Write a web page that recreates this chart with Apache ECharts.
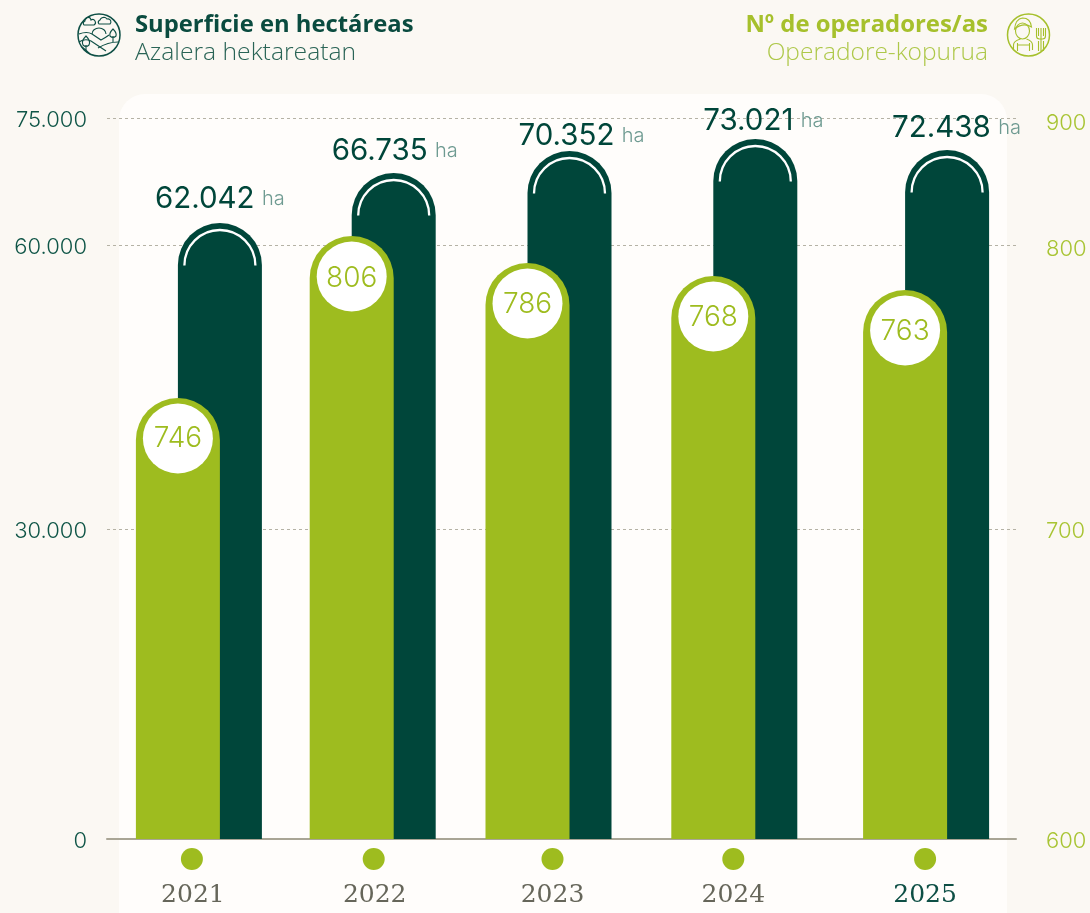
<!DOCTYPE html>
<html><head><meta charset="utf-8">
<script src="https://cdn.jsdelivr.net/npm/echarts@6/dist/echarts.min.js"></script>
<style>html,body{margin:0;padding:0;background:#FBF8F3}#c{width:1090px;height:913px}</style>
</head><body><div id="c"></div>
<script>
const years = ['2021','2022','2023','2024','2025'];
const hectares = [62042,66735,70352,73021,72438];
const operators = [746,806,786,768,763];
const hectareTicks = [0,30000,60000,75000];
const operatorTicks = [600,700,800,900];

// The reference's axes are not linear: each scale is a piecewise mapping from value to axis units.
const hectareBreaks = [0,30000,60000,62042,66735,70352,72438,73021,75000];
const hectareUnits  = [0,310,594,616,666,688,689,700,721];
const operatorBreaks = [600,700,746,763,768,786,800,806,900];
const operatorUnits  = [0,310,441,549,563,576,592,603,718];
const UNITS_MAX = 721;

const DARK='#00463A', GREEN='#9EBC1F', PAGE='#FBF8F3', PANEL='#FFFDFB';
const BAR_W=84;
const pairShift=[1,-7,-13,-9,1];
const dotShift=[-6,-6,-9,-10,0];
const yearShift=[1,1,0,0,0];
const haLabelDx=[-65,-62,-51,-52,-55];
const haLabelDy=[-24,-22,-15,-18,-22];
const bubbleDy=[41,43,42,42,42];

function warp(v,bs,us){
  for(let i=1;i<bs.length;i++){ if(v<=bs[i]){ const t=(v-bs[i-1])/(bs[i]-bs[i-1]); return us[i-1]+t*(us[i]-us[i-1]); } }
  return us[us.length-1];
}
const fmt=v=>String(v).replace(/\B(?=(\d{3})+$)/g,'.');
const hTickMap=new Map(hectareTicks.map(t=>[warp(t,hectareBreaks,hectareUnits),fmt(t)]));
const oTickMap=new Map(operatorTicks.map(t=>[warp(t,operatorBreaks,operatorUnits),String(t)]));

function renderDark(p,api){
  const i=api.value(0), c=api.coord([i,api.value(1)]), base=api.coord([i,0]);
  const cx=c[0]+pairShift[i]+21, top=c[1], R=BAR_W/2;
  return {type:'group',children:[
    {type:'rect',shape:{x:cx-R,y:top,width:BAR_W,height:base[1]-top,r:[R,R,0,0]},style:{fill:DARK}},
    {type:'arc',shape:{cx:cx,cy:top+R+0.5,r:35.5,startAngle:Math.PI,endAngle:2*Math.PI,clockwise:true},style:{fill:'none',stroke:'#FFFFFF',lineWidth:2.3}},
    {type:'text',x:cx+haLabelDx[i],y:top+haLabelDy[i],style:{
      text:'{v|'+fmt(api.value(2))+'} {u|ha}',align:'left',verticalAlign:'middle',
      rich:{v:{fontFamily:'Inter',fontSize:29.5,fontWeight:400,fill:DARK,color:DARK},
            u:{fontFamily:'Inter',fontSize:20,fontWeight:300,fill:'#6E9A91',color:'#6E9A91',padding:[0,0,0,4]}}
    }}
  ]};
}
function renderGreen(p,api){
  const i=api.value(0), c=api.coord([i,api.value(1)]), base=api.coord([i,0]);
  const cx=c[0]+pairShift[i]-21, top=c[1], R=BAR_W/2, dx=c[0]+dotShift[i];
  return {type:'group',children:[
    {type:'rect',shape:{x:cx-R,y:top,width:BAR_W,height:base[1]-top,r:[R,R,0,0]},style:{fill:GREEN}},
    {type:'circle',shape:{cx:cx,cy:top+40.5,r:35},style:{fill:'#FFFFFF'}},
    {type:'text',x:cx,y:top+bubbleDy[i],style:{text:String(api.value(2)),align:'center',verticalAlign:'middle',fontFamily:'Inter',fontSize:28,fontWeight:300,fill:'#9EBC1F'}},
    {type:'circle',shape:{cx:dx,cy:859,r:11},style:{fill:GREEN}},
    {type:'text',x:dx+yearShift[i],y:895,style:{text:years[i],align:'center',verticalAlign:'middle',fontFamily:'DejaVu Serif',fontSize:25,fill:i===4?'#0E4F45':'#66665A'}}
  ]};
}
const leftIcon=[
 'M-15,-10 a2.5,2.5 0 0 1 1,-4 a3,3 0 0 1 6,-1 a2.5,2.5 0 0 1 3,5 z',
 'M0,-11 a2.5,2.5 0 0 1 1,-4 a4,4 0 0 1 7,-1 a3,3 0 0 1 3,5 z',
 'M-7,-1 a7,6 0 0 1 14,0',
 'M-20,-1 q8,-3 13,0 l9,6 q4,-2 8,-5 M-20,7 q6,-4 12,-1 l15,10 M-1,13 q10,-6 20,-6 M-9,19 q-4,-4 -8,-7',
 'M14,-6 q-4,4 -3,7 q3,3 6,0 q1,-3 -3,-7 z M14,1 v6',
 'M-13,1 q-5,5 -3,9 q3,3 6,0 q2,-4 -3,-9 z M-13,10 v5'
];
const rightIcon=[
 'M-13,-4 a7,8 0 1 0 14,0 a7,8 0 1 0 -14,0',
 'M-14,-6 q1,-10 8,-11 q8,0 9,9 q-8,-5 -17,2 z',
 'M-15,15 v-5 q0,-4 7,-6 M4,15 v-5 q0,-4 -6,-6 M-11,16 v-8 M1,16 v-8 M-11,10 h12',
 'M8,-7 v8 q0,3 3,3 h3 q3,0 3,-3 v-8 M12.5,-7 v23 M10,-7 v8 M15,-7 v8 M10,6 v10 M15,6 v10'
];
[...leftIcon,...rightIcon].forEach((d,i)=>echarts.graphic.registerShape('iconPart'+i,echarts.graphic.extendPath(d,{})));
const icon=(cx,cy,color,paths,first)=>({type:'group',x:cx,y:cy,children:[
  {type:'circle',shape:{cx:0,cy:0,r:21},style:{fill:'none',stroke:color,lineWidth:1.5}},
  ...paths.map((d,k)=>({type:'iconPart'+(first+k),style:{fill:'none',stroke:color,lineWidth:1.1}}))
]});
const T=(x,y,text,align,family,size,weight,fill)=>({type:'text',x,y,style:{text,align,verticalAlign:'middle',fontFamily:family,fontSize:size,fontWeight:weight,fill}});
const tickRich=color=>({t:{fontFamily:'Inter',fontSize:22,fontWeight:300,color,padding:[5,0,0,0]}});

const chart=echarts.init(document.getElementById('c'),null,{renderer:'canvas'});
chart.setOption({
  backgroundColor:PAGE,
  animation:false,
  graphic:{elements:[
    {type:'rect',z:-10,shape:{x:119,y:94,width:888,height:830,r:[26,26,0,0]},style:{fill:PANEL}},
    icon(99,35,'#0E4F45',leftIcon,0),
    icon(1028.5,35,'#A6C02C',rightIcon,leftIcon.length),
    T(135,25,'Superficie en hectáreas','left','Open Sans',23.8,700,'#0A4B3F'),
    T(135,53,'Azalera hektareatan','left','Open Sans',24.7,300,'#2A6456'),
    T(988,25,'Nº de operadores/as','right','Open Sans',23.9,700,'#A6C02C'),
    T(988,53,'Operadore-kopurua','right','Open Sans',24.5,300,'#AEC84A')
  ]},
  grid:{left:107,right:74,top:118,bottom:74},
  xAxis:{type:'category',data:years,axisTick:{show:false},axisLabel:{show:false},axisLine:{lineStyle:{color:'#A9A595',width:2}}},
  yAxis:[
    {type:'value',min:0,max:UNITS_MAX,position:'left',axisLine:{show:false},
     axisTick:{show:false,customValues:[...hTickMap.keys()]},
     splitLine:{show:true,lineStyle:{color:'#B5B2A5',type:[3,3],width:1}},
     axisLabel:{customValues:[...hTickMap.keys()],formatter:v=>hTickMap.has(v)?'{t|'+hTickMap.get(v)+'}':'',margin:20,rich:tickRich('#0F5547')}},
    {type:'value',min:0,max:UNITS_MAX,position:'right',axisLine:{show:false},splitLine:{show:false},
     axisTick:{show:false,customValues:[...oTickMap.keys()]},
     axisLabel:{customValues:[...oTickMap.keys()],formatter:v=>oTickMap.has(v)?'{t|'+oTickMap.get(v)+'}':'',margin:30,rich:tickRich('#A8C433')}}
  ],
  series:[
    {type:'custom',name:'Superficie en hectáreas',z:3,clip:false,renderItem:renderDark,encode:{x:0,y:1},
     data:hectares.map((v,i)=>[i,warp(v,hectareBreaks,hectareUnits),v])},
    {type:'custom',name:'Nº de operadores/as',z:4,clip:false,renderItem:renderGreen,encode:{x:0,y:1},
     data:operators.map((v,i)=>[i,warp(v,operatorBreaks,operatorUnits),v])}
  ]
});
</script></body></html>
